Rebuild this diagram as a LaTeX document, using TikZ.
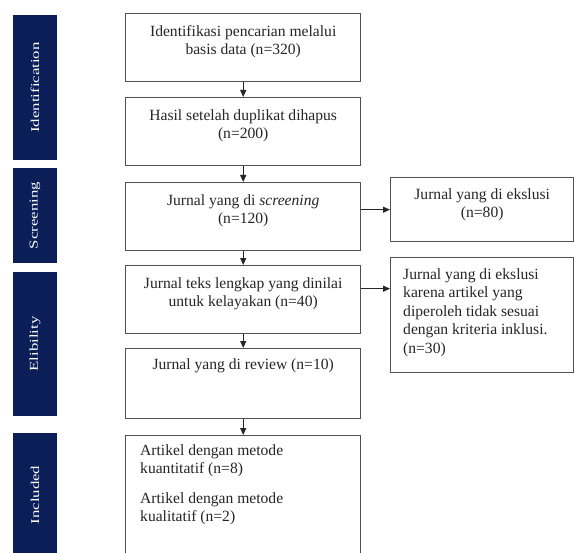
\documentclass[tikz,border=0pt]{standalone}
\usepackage{fontspec}
\setmainfont{Liberation Serif}
\usepackage{graphicx}
\usetikzlibrary{arrows.meta}
\definecolor{navy}{RGB}{12,30,88}
\definecolor{edge}{RGB}{80,80,80}
\begin{document}
\begin{tikzpicture}[x=1pt, y=-1pt,
  box/.style={draw=edge, line width=1.4pt, fill=white, anchor=north west, minimum width=235pt},
  sidebox/.style={box, minimum width=183pt},
  txt/.style={anchor=north, align=center, inner sep=0pt, font=\fontsize{15.6}{18}\selectfont, text=black!85},
  ltxt/.style={txt, anchor=north west, align=left},
  bar/.style={fill=navy, rotate=90, minimum height=44pt, inner sep=0pt, text=white, font=\fontsize{12}{14}\selectfont},
  arr/.style={-{Triangle[length=7pt,width=6pt]}, line width=1pt, black!85}]
  \useasboundingbox (0,0) rectangle (575,553);
  \fill[white] (0,0) rectangle (575,553);
  % phase bars
  \node[bar, minimum width=145pt] (pid) at (35,87.5) {\scalebox{1.4}[1]{Identification}};
  \node[bar, minimum width=95pt] (psc) at (35,215.5) {\scalebox{1.4}[1]{Screening}};
  \node[bar, minimum width=144pt] (pel) at (35,344) {\scalebox{1.4}[1]{Elibility}};
  \node[bar, minimum width=124pt] (pin) at (35,495) {\scalebox{1.4}[1]{Included}};
  % main column
  \node[box, minimum height=68pt] (b1) at (125,13) {};
  \node[box, minimum height=68pt] (b2) at (125,97) {};
  \node[box, minimum height=68pt] (b3) at (125,182) {};
  \node[box, minimum height=68pt] (b4) at (125,265) {};
  \node[box, minimum height=70pt] (b5) at (125,348) {};
  \node[box, minimum height=125pt] (b6) at (125,435) {};
  \node[txt, yshift=-12pt] (t1) at (b1.north) {Identifikasi pencarian melalui\\basis data (n=320)};
  \node[txt, yshift=-12pt] (t2) at (b2.north) {Hasil setelah duplikat dihapus\\(n=200)};
  \node[txt, yshift=-12pt] (t3) at (b3.north) {Jurnal yang di \textit{screening}\\(n=120)};
  \node[txt, yshift=-12pt] (t4) at (b4.north) {Jurnal teks lengkap yang dinilai\\untuk kelayakan (n=40)};
  \node[txt, yshift=-10pt] (t5) at (b5.north) {Jurnal yang di review (n=10)};
  \node[ltxt, xshift=15pt, yshift=-9.5pt] (t6) at (b6.north west) {Artikel dengan metode\\kuantitatif (n=8)\\[12pt]Artikel dengan metode\\kualitatif (n=2)};
  % excluded
  \node[sidebox, minimum height=64pt] (r1) at (390,177) {};
  \node[sidebox, minimum height=115pt] (r2) at (390,257) {};
  \node[txt, yshift=-11pt] (u1) at (r1.north) {Jurnal yang di ekslusi\\(n=80)};
  \node[ltxt, xshift=13pt, yshift=-11pt, font=\fontsize{15.6}{18.5}\selectfont] (u2) at (r2.north west) {Jurnal yang di ekslusi\\karena artikel yang\\diperoleh tidak sesuai\\dengan kriteria inklusi.\\(n=30)};
  \foreach \a/\b in {b1/b2,b2/b3,b3/b4,b4/b5,b5/b6}
    \draw[arr] (\a.south) -- (\b.north);
  \draw[arr] (b3.east |- r1.west) -- (r1.west);
  \coordinate (e4) at ([yshift=11pt]b4.east);
  \draw[arr] (e4) -- (e4 -| r2.west);
\end{tikzpicture}
\end{document}
